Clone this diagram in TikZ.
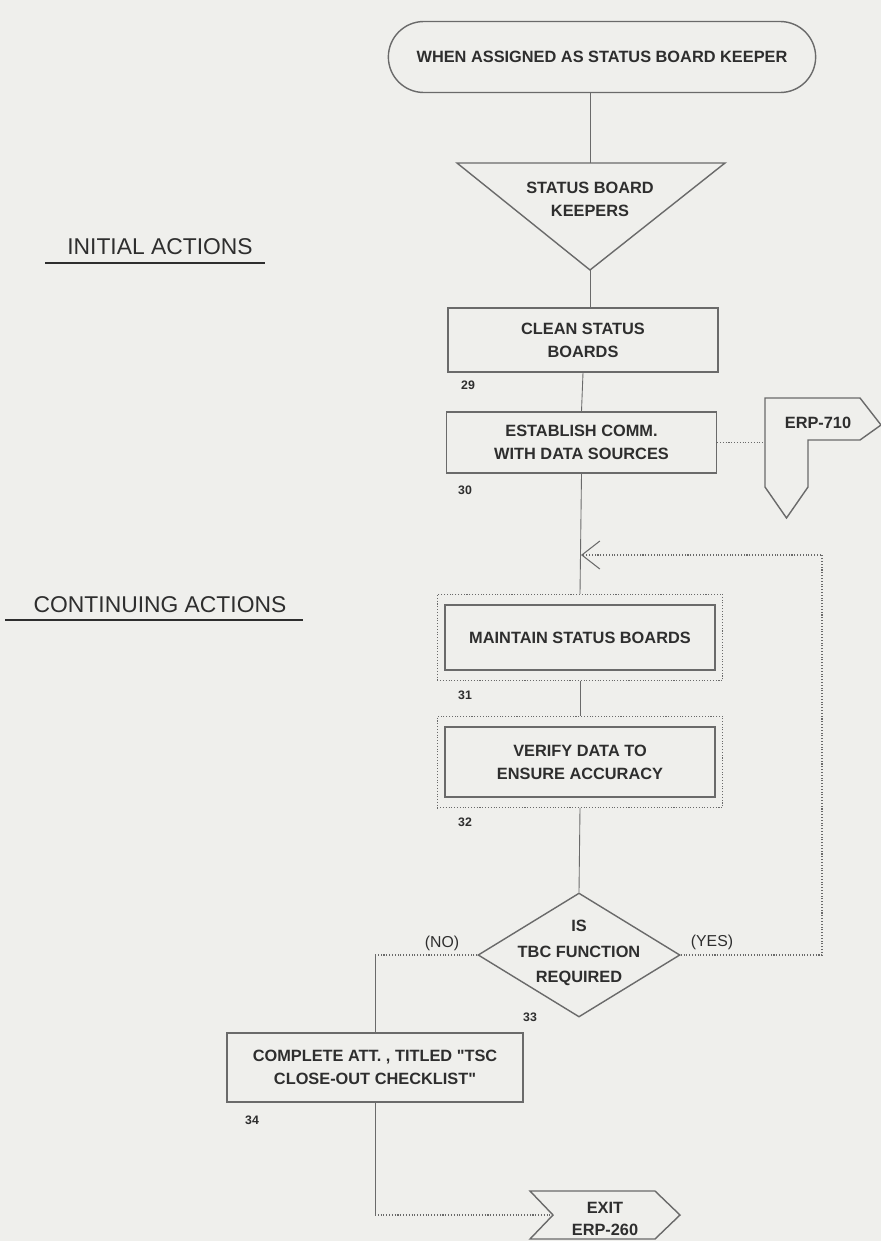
\documentclass[tikz,border=0pt]{standalone}
\usepackage{fontspec}
\setmainfont{Liberation Sans}
\usepackage{xcolor}
\usetikzlibrary{shapes.misc,shapes.geometric,arrows.meta,fit}
\definecolor{sbpaper}{HTML}{EFEFEC}
\definecolor{sbline}{HTML}{6A6A6A}
\definecolor{sbtext}{HTML}{2E2E2E}

\tikzset{
	flowline/.style={color=sbline, line width=0.5pt},
	flowdots/.style={color=sbline, line width=0.6pt, densely dotted},
	boxtext/.style={text=sbtext, align=center, font=\fontsize{9.3}{13}\selectfont\bfseries},
	actbox/.style={boxtext, draw=sbline, line width=0.8pt, minimum width=5.4cm},
	dotframe/.style={draw=sbline, densely dotted, line width=0.6pt, inner xsep=0.14cm, inner ysep=0.2cm},
	stepno/.style={text=sbtext, font=\fontsize{7}{8}\selectfont\bfseries, inner sep=0pt},
	heading/.style={text=sbtext, font=\fontsize{13}{15}\selectfont},
	branch/.style={text=sbtext, font=\fontsize{9}{11}\selectfont},
}

\begin{document}
\begin{tikzpicture}
		\fill[sbpaper] (0,0) rectangle (17.62,-24.82);
		\useasboundingbox (0,0) rectangle (17.62,-24.82);

		\node[heading] (initial) at (3.2,-4.94) {INITIAL ACTIONS};
		\draw[color=sbtext, line width=1pt] (0.9,-5.26) -- (5.3,-5.26);
		\node[heading] (continuing) at (3.2,-12.1) {CONTINUING ACTIONS};
		\draw[color=sbtext, line width=1pt] (0.1,-12.4) -- (6.06,-12.4);

		\node[boxtext, rounded rectangle, draw=sbline, line width=0.8pt, minimum width=8.78cm, minimum height=1.42cm] (start) at (12.04,-1.14) {WHEN ASSIGNED AS STATUS BOARD KEEPER};

		\coordinate (keepA) at (9.14,-3.26);
		\coordinate (keepB) at (14.5,-3.26);
		\coordinate (keepC) at (11.8,-5.4);
		\coordinate (keeptop) at (11.8,-3.26);
		\draw[color=sbline, line width=0.8pt] (keepA) -- (keepB) -- (keepC) -- cycle;
		\node[boxtext] (keepers) at (11.8,-3.98) {STATUS BOARD\\KEEPERS};

		\node[actbox, minimum height=1.28cm] (clean) at (11.66,-6.8) {CLEAN STATUS\\BOARDS};
		\node[stepno] (s29) at (9.36,-7.7) {29};
		\node[actbox, minimum height=1.22cm] (comm) at (11.63,-8.85) {ESTABLISH COMM.\\WITH DATA SOURCES};
		\node[stepno] (s30) at (9.3,-9.8) {30};

		\coordinate (erpA) at (15.3,-7.96);
		\coordinate (erpB) at (17.2,-7.96);
		\coordinate (erpC) at (17.62,-8.5);
		\coordinate (erpD) at (17.2,-8.8);
		\coordinate (erpE) at (16.16,-8.8);
		\coordinate (erpF) at (16.16,-9.74);
		\coordinate (erpG) at (15.73,-10.36);
		\coordinate (erpH) at (15.3,-9.74);
		\coordinate (erpin) at (15.3,-8.9);
		\draw[color=sbline, line width=0.8pt] (erpA) -- (erpB) -- (erpC) -- (erpD) -- (erpE) -- (erpF) -- (erpG) -- (erpH) -- cycle;
		\node[boxtext] (erp710) at (16.36,-8.46) {ERP-710};

		\node[actbox, minimum height=1.3cm] (maintain) at (11.6,-12.75) {MAINTAIN STATUS BOARDS};
		\node[dotframe, fit=(maintain)] (maintainframe) {};
		\node[stepno] (s31) at (9.3,-13.9) {31};
		\node[actbox, minimum height=1.4cm] (verify) at (11.6,-15.24) {VERIFY DATA TO\\ENSURE ACCURACY};
		\node[dotframe, fit=(verify)] (verifyframe) {};
		\node[stepno] (s32) at (9.3,-16.44) {32};

		\node[diamond, draw=sbline, line width=0.8pt, minimum width=4.04cm, minimum height=2.48cm, inner sep=0pt] (tbc) at (11.58,-19.1) {};
		\node[boxtext, font=\fontsize{9.3}{14.5}\selectfont\bfseries] (tbctext) at (11.58,-19.06) {IS\\TBC FUNCTION\\REQUIRED};
		\node[stepno] (s33) at (10.6,-20.34) {33};
		\node[branch] (no) at (8.84,-18.86) {(NO)};
		\node[branch] (yes) at (14.24,-18.84) {(YES)};

		\node[actbox, minimum width=5.92cm, minimum height=1.38cm] (complete) at (7.5,-21.35) {COMPLETE ATT. , TITLED \textquotedbl TSC\\CLOSE-OUT CHECKLIST\textquotedbl};
		\node[stepno] (s34) at (5.04,-22.4) {34};

		\coordinate (exitin) at (11.06,-24.3);
		\coordinate (exitA) at (10.6,-23.82);
		\coordinate (exitB) at (13.1,-23.82);
		\coordinate (exitC) at (13.6,-24.3);
		\coordinate (exitD) at (13.1,-24.78);
		\coordinate (exitE) at (10.6,-24.78);
		\draw[color=sbline, line width=0.8pt] (exitA) -- (exitB) -- (exitC) -- (exitD) -- (exitE) -- (exitin) -- cycle;
		\node[boxtext] (exit) at (12.1,-24.38) {EXIT\\ERP-260};

		\coordinate (looptop) at (16.44,-11.1);
		\coordinate (loopin) at (11.62,-11.1);

		\draw[flowline] (start.south -| keeptop) -- (keeptop);
		\draw[flowline] (keepC) -- (keepC |- clean.north);
		\draw[flowline] (clean.south) -- (comm.north);
		\draw[flowdots] (comm.east) -- (comm.east -| erpin);
		\draw[flowline] (comm.south) -- (maintainframe.north);
		\draw[flowline] (maintainframe.south) -- (verifyframe.north);
		\draw[flowline] (verifyframe.south) -- (tbc.north);
		\draw[flowdots, -{Straight Barb[length=3.6mm, width=5.6mm]}] (tbc.east) -| (looptop) -- (loopin);
		\draw[flowdots] (tbc.west) -- (tbc.west -| complete.north);
		\draw[flowline] (tbc.west -| complete.north) -- (complete.north);
		\draw[flowline] (complete.south) -- (complete.south |- exitin);
		\draw[flowdots] (complete.south |- exitin) -- (exitin);
	\end{tikzpicture}
\end{document}
